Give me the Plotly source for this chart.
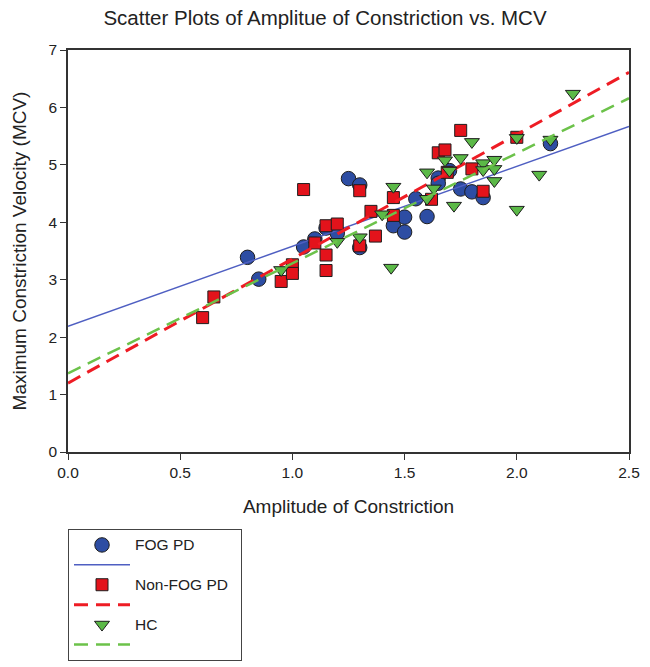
import plotly.graph_objects as go

# FOG PD (blue circles)
fog_x = [0.80, 0.85, 1.05, 1.10, 1.15, 1.20, 1.25, 1.30, 1.30, 1.45, 1.50, 1.50, 1.55, 1.60,
         1.65, 1.65, 1.70, 1.75, 1.80, 1.85, 2.15]
fog_y = [3.39, 3.01, 3.57, 3.71, 3.90, 3.81, 4.76, 4.65, 3.56, 3.94, 4.09, 3.83, 4.41, 4.10,
         4.77, 4.68, 4.90, 4.58, 4.53, 4.43, 5.37]

# Non-FOG PD (red squares)
nonfog_x = [0.60, 0.65, 0.95, 1.00, 1.00, 1.05, 1.10, 1.15, 1.15, 1.15, 1.20, 1.30, 1.30,
            1.35, 1.37, 1.45, 1.45, 1.62, 1.65, 1.68, 1.69, 1.75, 1.80, 1.85, 2.00]
nonfog_y = [2.34, 2.70, 2.97, 3.26, 3.11, 4.57, 3.64, 3.94, 3.43, 3.16, 3.97, 4.55, 3.59,
            4.19, 3.76, 4.43, 4.12, 4.40, 5.21, 5.26, 4.87, 5.60, 4.93, 4.54, 5.48]

# HC (green down-triangles)
hc_x = [0.95, 1.20, 1.30, 1.40, 1.45, 1.44, 1.60, 1.60, 1.63, 1.68, 1.70, 1.72, 1.75, 1.80,
        1.85, 1.85, 1.90, 1.90, 1.90, 2.00, 2.00, 2.10, 2.15, 2.25]
hc_y = [3.17, 3.66, 3.74, 4.14, 4.62, 3.21, 4.87, 4.41, 4.59, 5.08, 4.90, 4.29, 5.12, 5.40,
        5.03, 4.91, 5.09, 4.93, 4.72, 5.47, 4.22, 4.83, 5.44, 6.24]

# Regression lines (intercept, slope)
fog_fit = (2.19, 1.392)
nonfog_fit = (1.20, 2.164)
hc_fit = (1.37, 1.916)
line_x = [0.0, 2.5]

x_ticks = [0.0, 0.5, 1.0, 1.5, 2.0, 2.5]
y_ticks = [0, 1, 2, 3, 4, 5, 6, 7]

series_names = ["FOG PD", "Non-FOG PD", "HC"]

FONT = "Liberation Sans, Arial, sans-serif"
BLUE_M = "#2d4da3"
RED_M = "#e3131b"
GREEN_M = "#5bb947"
BLUE_L = "#4f5fc2"
RED_L = "#ee1c24"
GREEN_L = "#6cc24a"
EDGE = "#1e1e1e"


def fit_line(fit):
    b, m = fit
    return [b + m * x for x in line_x]


def legend_name(s):
    return f"<span style='font-size:15.5px'>{s}</span>&nbsp;&nbsp;"


fig = go.Figure()
fig.add_trace(go.Scatter(x=fog_x, y=fog_y, mode="markers", name=legend_name(series_names[0]),
                         marker=dict(symbol="circle", size=14.5, color=BLUE_M,
                                     line=dict(color=EDGE, width=1))))
fig.add_trace(go.Scatter(x=line_x, y=fit_line(fog_fit), mode="lines", name=" ",
                         line=dict(color=BLUE_L, width=1.5)))
fig.add_trace(go.Scatter(x=nonfog_x, y=nonfog_y, mode="markers", name=legend_name(series_names[1]),
                         marker=dict(symbol="square", size=12, color=RED_M,
                                     line=dict(color=EDGE, width=1))))
fig.add_trace(go.Scatter(x=line_x, y=fit_line(nonfog_fit), mode="lines", name=" ",
                         line=dict(color=RED_L, width=3, dash="14px,8px")))
fig.add_trace(go.Scatter(x=hc_x, y=hc_y, mode="markers", name=legend_name(series_names[2]),
                         marker=dict(symbol="triangle-down", size=13, color=GREEN_M,
                                     line=dict(color=EDGE, width=1))))
fig.add_trace(go.Scatter(x=line_x, y=fit_line(hc_fit), mode="lines", name=" ",
                         line=dict(color=GREEN_L, width=2.5, dash="14px,8px")))

fig.update_layout(
    width=650, height=667,
    margin=dict(l=68, r=21, t=50, b=215, autoexpand=False),
    paper_bgcolor="white", plot_bgcolor="white",
    font=dict(family=FONT, size=15, color="#222"),
    title=dict(text="Scatter Plots of Amplitue of Constriction vs. MCV",
               x=0.5, xanchor="center", y=1 - 18 / 667, yanchor="middle",
               font=dict(size=20.5, family=FONT, color="#222")),
    showlegend=True,
    legend=dict(x=0.0, y=-0.1915, xanchor="left", yanchor="top",
                bordercolor="#444", borderwidth=1, bgcolor="white",
                font=dict(size=13, family=FONT, color="#222"),
                itemwidth=56, tracegroupgap=0),
    xaxis=dict(range=[0, 2.5], tickvals=x_ticks, ticktext=[f"{v:.1f}" for v in x_ticks],
               showgrid=False, zeroline=False, showline=True, linecolor="#333",
               linewidth=1.5, mirror=True, ticks="outside", ticklen=6, tickcolor="#333",
               tickfont=dict(size=15.5), title=dict(text="Amplitude of Constriction",
                                                   font=dict(size=19), standoff=19)),
    yaxis=dict(range=[0, 7], tickvals=y_ticks, showgrid=False, zeroline=False,
               showline=True, linecolor="#333", linewidth=1.5, mirror=True,
               ticks="outside", ticklen=6, tickcolor="#333", tickfont=dict(size=15.5),
               title=dict(text="Maximum Constriction Velocity (MCV)",
                          font=dict(size=19), standoff=17)),
)

fig.write_html("out.html", config={"displayModeBar": False},
               post_script="document.body.style.margin='0';")
